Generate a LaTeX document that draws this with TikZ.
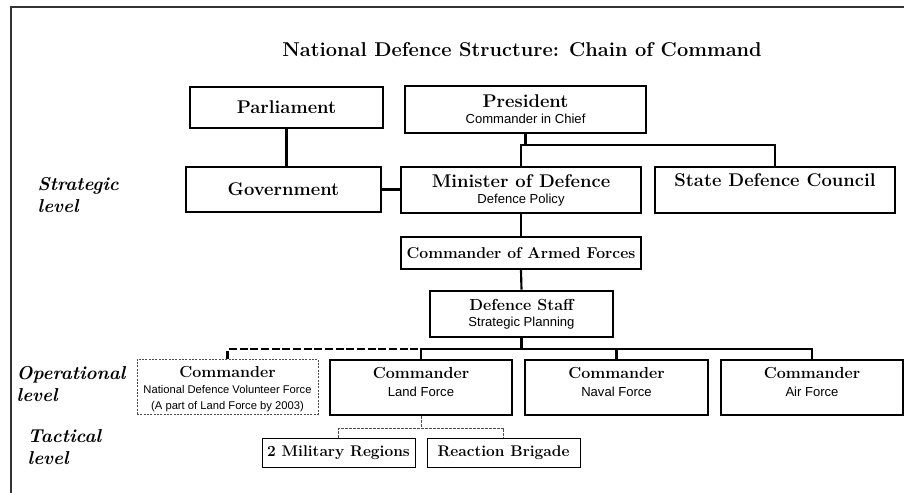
\documentclass[tikz,border=0pt]{standalone}
\usepackage{fontspec}
\newfontfamily\arialfont{Liberation Sans}
\usetikzlibrary{calc}

\newcommand\boxhead{\fontsize{13.8}{15}\selectfont\bfseries}
\newcommand\boxsub{\arialfont\fontsize{9.8}{11.5}\selectfont}
\newcommand\spaced[1]{{\addfontfeature{LetterSpace=8}#1}}

\begin{document}
\begin{tikzpicture}[x=0.75pt,y=-0.75pt,
  box/.style={draw,line width=1.6pt,inner sep=0pt,align=center},
  opbox/.style={draw,line width=1.3pt,inner sep=0pt,align=center,minimum height=41.25pt},
  dashbox/.style={draw=black!70,dash pattern=on 1.5pt off 1pt,line width=0.5pt,inner sep=0pt,align=center,minimum height=41.25pt},
  tacbox/.style={draw,line width=0.75pt,inner sep=0pt,minimum width=114.75pt,minimum height=21.75pt},
  conn/.style={line width=1.6pt},
  tacconn/.style={line width=0.5pt,black!70,dash pattern=on 2pt off 1pt},
  level/.style={anchor=west,align=left,font=\fontsize{14}{17}\selectfont\bfseries\itshape}
]
\useasboundingbox (0,0) rectangle (904,493);
%frame
\draw[line width=1.5pt,black!80] (904,7) -- (11,7) -- (11,493);

%title
\node[font=\fontsize{15}{18}\selectfont\bfseries] (title) at (522,50) {National Defence Structure: Chain of Command};

%levels
\node[level] (strategic) at (33,195) {Strategic\\level};
\node[level] (operational) at (12,384) {Operational\\level};
\node[level] (tactical) at (23,447) {Tactical\\level};

%strategic level
\node[box,minimum width=144.75pt,minimum height=30.75pt] (parl) at (286.5,107.5) {\boxhead Parliament};
\node[box,minimum width=180.75pt,minimum height=35.25pt] (pres) at (525.5,109.5)
  {{\boxhead President}\\{\boxsub Commander in Chief}};
\node[box,minimum width=146.25pt,minimum height=33.75pt] (gov) at (283.5,189.5) {\boxhead Government};
\node[box,minimum width=180pt,minimum height=34.5pt] (mod) at (521,190)
  {{\boxhead Minister of Defence}\\{\boxsub Defence Policy}};
\node[box,minimum width=180pt,minimum height=34.5pt] (sdc) at (775,190)
  {{\boxhead State Defence Council}\\{\boxsub\strut}};
\node[box,minimum width=180pt,minimum height=24pt] (caf) at (521,253)
  {\boxhead\fontsize{11.8}{13}\selectfont\spaced{Commander of Armed Forces}};
\node[box,line width=2pt,minimum width=137.25pt,minimum height=34.5pt] (staff) at (521.5,314)
  {{\boxhead\fontsize{12}{14}\selectfont\spaced{Defence Staff}}\\{\boxsub Strategic Planning}};

%operational level
\node[dashbox,minimum width=135.75pt] (ndvf) at (227.5,386.5)
  {{\boxsub\strut}\\[-8pt]{\boxhead\fontsize{12}{14}\selectfont\spaced{Commander}}\\
   {\boxsub\fontsize{8.4}{10}\selectfont National Defence Volunteer Force}\\
   {\boxsub\fontsize{8.4}{10}\selectfont (A part of Land Force by 2003)}};
\node[opbox,minimum width=136.5pt] (land) at (421,387.5)
  {{\boxhead\fontsize{12}{14}\selectfont\spaced{Commander}}\\[1pt]{\boxsub Land Force}\\[-7pt]{\boxsub\strut}};
\node[opbox,minimum width=137.25pt] (naval) at (616.5,387.5)
  {{\boxhead\fontsize{12}{14}\selectfont\spaced{Commander}}\\[1pt]{\boxsub Naval Force}\\[-7pt]{\boxsub\strut}};
\node[opbox,minimum width=136.5pt] (air) at (812,387.5)
  {{\boxhead\fontsize{12}{14}\selectfont\spaced{Commander}}\\[1pt]{\boxsub Air Force}\\[-7pt]{\boxsub\strut}};

%tactical level
\node[tacbox] (mil) at (338.5,452.5) {\boxhead\fontsize{11.6}{13}\selectfont\spaced{2 Military Regions}};
\node[tacbox] (brig) at (503.5,452.5) {\boxhead\fontsize{11.6}{13}\selectfont\spaced{Reaction Brigade}};

%forks
\coordinate (presfork) at ($(pres.south)+(0,11)$);
\coordinate (opfork) at ($(staff.south)+(0,11)$);
\coordinate (tacfork) at ($(land.south)+(0,12)$);

%connectors
\draw[conn] (parl.south) -- (parl.south |- gov.north);
\draw[conn] (gov.east) -- (gov.east -| mod.west);
\draw[conn] (pres.south) -- (presfork);
\draw[conn] (mod.north) |- (presfork) -| (sdc.north);
\draw[conn] (mod.south) -- (caf.north);
\draw[conn] (caf.south) -- (staff.north);
\draw[conn] (staff.south) -- (opfork);
\draw[conn] (land.north) |- (opfork) -| (air.north);
\draw[conn] (naval.north) -- (naval.north |- opfork);
\draw[conn,dash pattern=on 6pt off 2pt] (ndvf.north) |- (land.north |- opfork);
\draw[tacconn] (land.south) -- (tacfork);
\draw[tacconn] (mil.north) |- (tacfork) -| (brig.north);
\end{tikzpicture}
\end{document}
